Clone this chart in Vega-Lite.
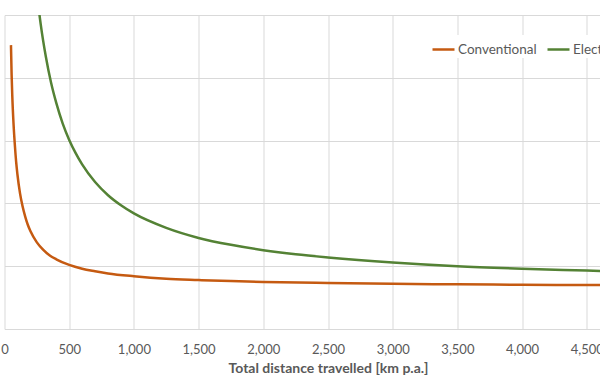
{
  "$schema": "https://vega.github.io/schema/vega-lite/v6.json",
  "autosize": {"type": "none"},
  "padding": {"left": 4.5, "top": 15, "right": 0, "bottom": 56},
  "width": 647,
  "height": 314,
  "background": "white",
  "config": {
    "font": "Lato",
    "view": {"stroke": null}
  },
  "data": {
    "values": [
      {"series": "Conventional", "km": 50, "cost": 4.52},
      {"series": "Conventional", "km": 55, "cost": 4.05},
      {"series": "Conventional", "km": 60, "cost": 3.72},
      {"series": "Conventional", "km": 70, "cost": 3.26},
      {"series": "Conventional", "km": 80, "cost": 2.93},
      {"series": "Conventional", "km": 90, "cost": 2.66},
      {"series": "Conventional", "km": 100, "cost": 2.46},
      {"series": "Conventional", "km": 120, "cost": 2.16},
      {"series": "Conventional", "km": 140, "cost": 1.95},
      {"series": "Conventional", "km": 160, "cost": 1.79},
      {"series": "Conventional", "km": 180, "cost": 1.66},
      {"series": "Conventional", "km": 200, "cost": 1.56},
      {"series": "Conventional", "km": 250, "cost": 1.38},
      {"series": "Conventional", "km": 300, "cost": 1.26},
      {"series": "Conventional", "km": 350, "cost": 1.17},
      {"series": "Conventional", "km": 400, "cost": 1.11},
      {"series": "Conventional", "km": 500, "cost": 1.02},
      {"series": "Conventional", "km": 600, "cost": 0.96},
      {"series": "Conventional", "km": 700, "cost": 0.92},
      {"series": "Conventional", "km": 800, "cost": 0.885},
      {"series": "Conventional", "km": 1000, "cost": 0.84},
      {"series": "Conventional", "km": 1250, "cost": 0.80},
      {"series": "Conventional", "km": 1500, "cost": 0.78},
      {"series": "Conventional", "km": 1750, "cost": 0.763},
      {"series": "Conventional", "km": 2000, "cost": 0.75},
      {"series": "Conventional", "km": 2500, "cost": 0.732},
      {"series": "Conventional", "km": 3000, "cost": 0.72},
      {"series": "Conventional", "km": 3500, "cost": 0.711},
      {"series": "Conventional", "km": 4000, "cost": 0.705},
      {"series": "Conventional", "km": 4500, "cost": 0.70},
      {"series": "Conventional", "km": 5000, "cost": 0.696},
      {"series": "Electric", "km": 200, "cost": 6.52},
      {"series": "Electric", "km": 240, "cost": 5.55},
      {"series": "Electric", "km": 280, "cost": 4.85},
      {"series": "Electric", "km": 320, "cost": 4.33},
      {"series": "Electric", "km": 360, "cost": 3.92},
      {"series": "Electric", "km": 400, "cost": 3.60},
      {"series": "Electric", "km": 450, "cost": 3.27},
      {"series": "Electric", "km": 500, "cost": 3.01},
      {"series": "Electric", "km": 550, "cost": 2.80},
      {"series": "Electric", "km": 600, "cost": 2.62},
      {"series": "Electric", "km": 700, "cost": 2.34},
      {"series": "Electric", "km": 800, "cost": 2.13},
      {"series": "Electric", "km": 900, "cost": 1.97},
      {"series": "Electric", "km": 1000, "cost": 1.84},
      {"series": "Electric", "km": 1250, "cost": 1.61},
      {"series": "Electric", "km": 1500, "cost": 1.45},
      {"series": "Electric", "km": 1750, "cost": 1.34},
      {"series": "Electric", "km": 2000, "cost": 1.255},
      {"series": "Electric", "km": 2250, "cost": 1.19},
      {"series": "Electric", "km": 2500, "cost": 1.14},
      {"series": "Electric", "km": 3000, "cost": 1.06},
      {"series": "Electric", "km": 3500, "cost": 1.00},
      {"series": "Electric", "km": 4000, "cost": 0.96},
      {"series": "Electric", "km": 4500, "cost": 0.93},
      {"series": "Electric", "km": 5000, "cost": 0.90}
    ]
  },
  "mark": {"type": "line", "clip": true, "strokeWidth": 2.5, "interpolate": "monotone"},
  "encoding": {
    "x": {
      "field": "km",
      "type": "quantitative",
      "scale": {"domain": [0, 5000], "nice": false},
      "axis": {
        "values": [0, 500, 1000, 1500, 2000, 2500, 3000, 3500, 4000, 4500, 5000],
        "format": ",.0f",
        "grid": true,
        "gridColor": "#D9D9D9",
        "gridWidth": 1,
        "domainColor": "#D9D9D9",
        "domainWidth": 1,
        "ticks": false,
        "labelFontSize": 13,
        "labelColor": "#595959",
        "labelPadding": 14,
        "labelFlush": false,
        "labelOverlap": false,
        "title": "Total distance travelled [km p.a.]",
        "titleFontSize": 14,
        "titleFontWeight": "bold",
        "titleColor": "#595959",
        "titlePadding": 5
      }
    },
    "y": {
      "field": "cost",
      "type": "quantitative",
      "scale": {"domain": [0, 5], "nice": false},
      "axis": {
        "values": [0, 1, 2, 3, 4, 5],
        "grid": true,
        "gridColor": "#D9D9D9",
        "gridWidth": 1,
        "labels": false,
        "ticks": false,
        "domain": false,
        "title": null
      }
    },
    "color": {
      "field": "series",
      "type": "nominal",
      "scale": {"domain": ["Conventional", "Electric"], "range": ["#C55A11", "#548235"]},
      "legend": {
        "title": null,
        "orient": "none",
        "legendX": 424.5,
        "legendY": 20,
        "direction": "horizontal",
        "symbolType": "stroke",
        "symbolSize": 484,
        "symbolStrokeWidth": 2.5,
        "labelFontSize": 13.5,
        "labelColor": "#595959",
        "labelOffset": 2,
        "columnPadding": 5,
        "fillColor": "white",
        "padding": 2
      }
    }
  }
}
